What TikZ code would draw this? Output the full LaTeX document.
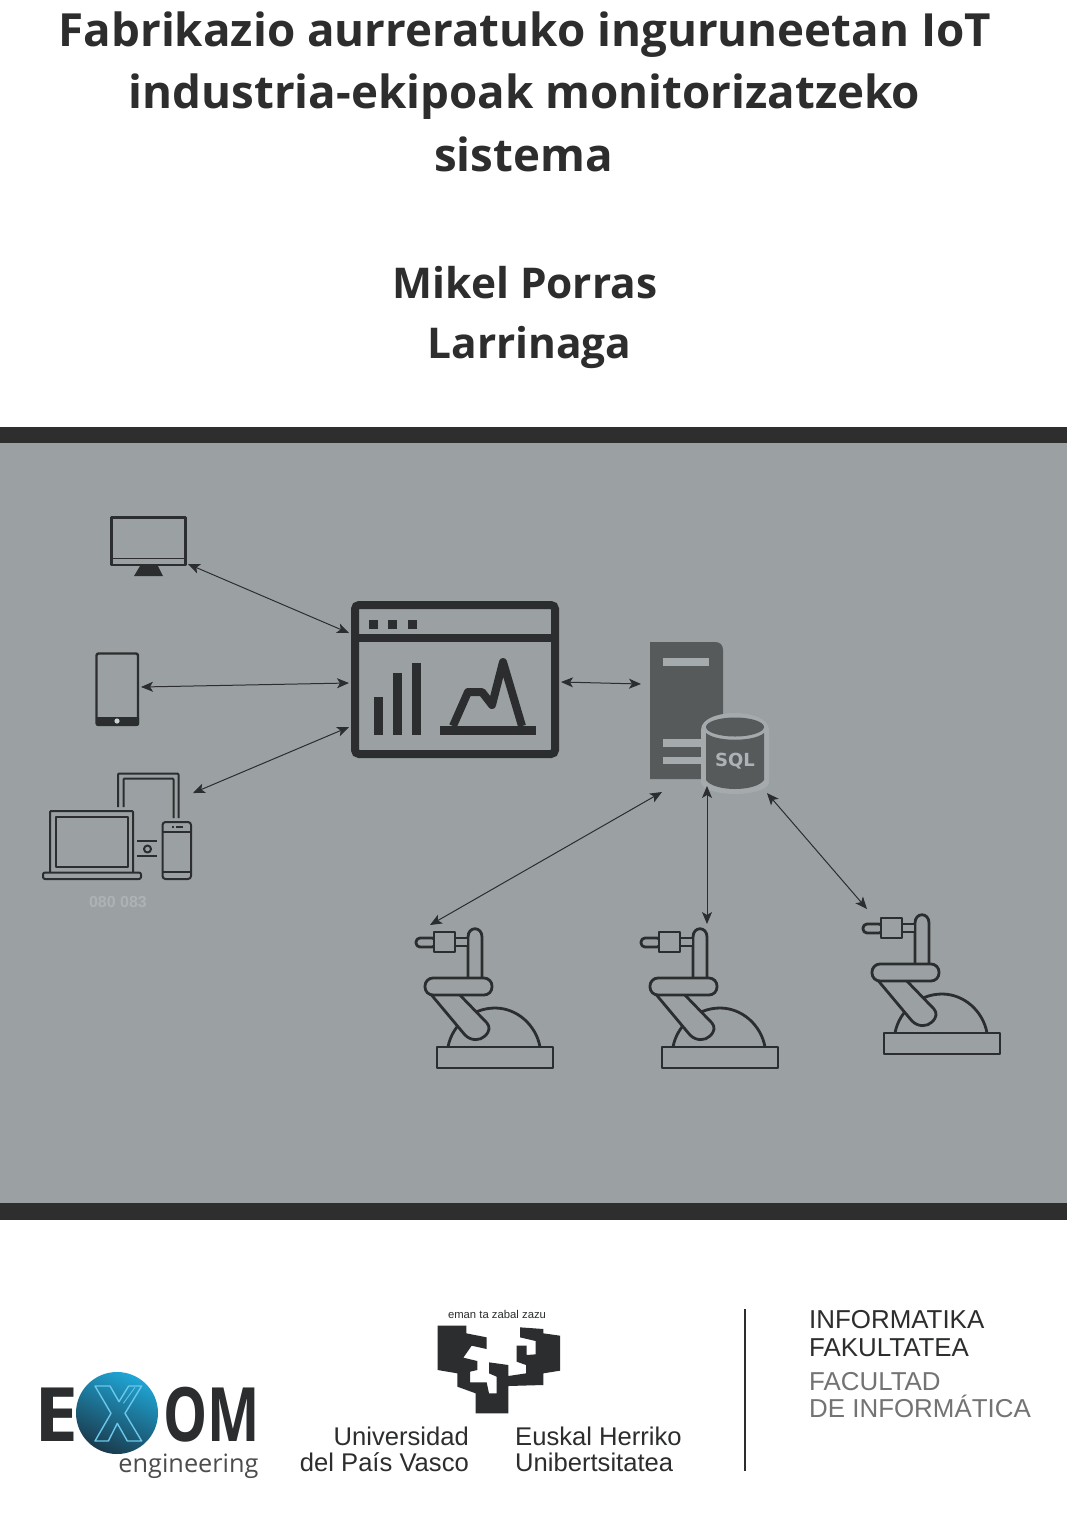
\documentclass[tikz,border=0pt]{standalone}
\usepackage{fontspec}
\setmainfont{Open Sans}
\newfontfamily\arialf{Liberation Sans}
\newfontfamily\djv{DejaVu Sans}
\usetikzlibrary{arrows.meta,shadings}
\definecolor{panel}{HTML}{9BA1A3}
\definecolor{bar}{HTML}{2E2E2E}
\definecolor{ink}{HTML}{2B2D2E}
\definecolor{titleink}{HTML}{2D2D2D}
\definecolor{srv}{HTML}{565A5B}
\definecolor{slot}{HTML}{A5AAAC}
\definecolor{fade}{HTML}{AEB2B4}
\definecolor{xblue}{HTML}{6CC7EA}
\definecolor{orbtop}{HTML}{1FA6D6}
\definecolor{orbbot}{HTML}{1A3A4C}
\tikzset{
  titletext/.style={anchor=base,inner sep=0pt,text=titleink,font=\fontsize{45.7}{50}\selectfont\bfseries},
  authortext/.style={anchor=base,inner sep=0pt,text=titleink,font=\fontsize{42.4}{46}\selectfont\bfseries},
  uni/.style={anchor=base,inner sep=0pt,text=ink,font=\arialf\fontsize{25.6}{30}\selectfont},
  fac/.style={anchor=base west,inner sep=0pt,font=\arialf\fontsize{25.9}{30}\selectfont},
  icon/.style={draw=ink,line width=2.4pt,line join=round},
  icont/.style={draw=ink,line width=2pt,line join=round},
  link/.style={draw=ink,line width=1pt,{Stealth[length=12pt,width=10pt,inset=3pt]}-{Stealth[length=12pt,width=10pt,inset=3pt]}},
  rob/.style={draw=ink,line width=2.8pt,line join=round,fill=panel},
}
\newcommand{\robotat}[2]{%
\begin{scope}[shift={(#1,#2)}]
  \draw[rob] (437,1047) rectangle (553,1068);
  \draw[rob,fill=none] (448,1047) .. controls (452,1025) and (472,1008) .. (495,1008) .. controls (517,1008) and (536,1025) .. (540,1047);
  \draw[rob] (429,992) -- (465,1035) .. controls (471,1041) and (480,1041) .. (485,1036) .. controls (490,1031) and (490,1027) .. (487,1023) -- (457,992) -- cycle;
  \draw[rob] (468,980) -- (468,937) .. controls (468,926) and (482,926) .. (482,937) -- (482,980) -- cycle;
  \draw[rob,rounded corners=8pt] (425,978) rectangle (492,995);
  \draw[rob] (455,938) rectangle (468,946);
  \draw[rob,rounded corners=4pt] (416,938) rectangle (436,947);
  \draw[rob] (434,932) rectangle (455,952);
\end{scope}}
\begin{document}
\begin{tikzpicture}[x=1pt,y=-1pt]
\useasboundingbox (0,0) rectangle (1067,1513);
\fill[white] (0,0) rectangle (1067,1513);
% title
\node[titletext] (t1) at (525,46) {Fabrikazio aurreratuko inguruneetan IoT};
\node[titletext] (t2) at (524.5,108.5) {industria-ekipoak monitorizatzeko};
\node[titletext] (t3) at (523.5,171) {sistema};
\node[authortext] (a1) at (525,298) {Mikel Porras};
\node[authortext] (a2) at (529.5,358) {Larrinaga};
% panel
\fill[panel] (0,443) rectangle (1067,1203);
\fill[bar] (0,427) rectangle (1067,443);
\fill[bar] (0,1203) rectangle (1067,1220);
% monitor
\draw[icon] (111.5,517.5) rectangle (185.5,565);
\draw[ink,line width=1pt] (112,558) -- (185,558);
\fill[ink] (140,566) -- (158,566) -- (163,576) -- (134,576) -- cycle;
% tablet
\draw[icon,rounded corners=2pt] (96.5,653.5) rectangle (138,725);
\fill[ink,rounded corners=1pt] (96,717) rectangle (139,725.5);
\fill[panel!50!white] (117,721) circle (2.6);
% devices
\draw[icont,rounded corners=1pt] (118,807) -- (118,773.5) -- (178.5,773.5) -- (178.5,818);
\draw[icont,rounded corners=1pt] (123.5,807) -- (123.5,778.5) -- (173.5,778.5) -- (173.5,818);
\draw[icont,rounded corners=1pt] (50,872) -- (50,811) -- (133,811) -- (133,872);
\draw[icon] (56,817) rectangle (128,867);
\draw[icont,rounded corners=2pt] (43,872.5) rectangle (141,879);
\draw[icont,rounded corners=3pt] (162.5,822) rectangle (191,879);
\draw[icont] (162.5,832) -- (191,832);
\draw[icont] (162.5,872) -- (191,872);
\fill[ink] (172,825.5) rectangle (174,828);
\fill[ink] (176,825.5) rectangle (183,828);
\draw[icont] (137,841) -- (157,841);
\draw[icont] (137,856) -- (157,856);
\draw[icont] (147.5,849) circle (3.5);
\node[inner sep=0pt,text=fade,font=\arialf\bfseries\fontsize{16}{18}\selectfont] (faded) at (118,902) {080 083};
% browser window
\draw[ink,line width=8pt,rounded corners=4pt] (355,605) rectangle (555,754);
\draw[ink,line width=8pt] (355,638) -- (555,638);
\fill[ink] (369,620) rectangle (378,629);
\fill[ink] (388,620) rectangle (397,629);
\fill[ink] (408,620) rectangle (417,629);
\fill[ink] (374,697) rectangle (383,735);
\fill[ink] (393,673) rectangle (402,735);
\fill[ink] (412,663) rectangle (421,735);
\draw[ink,line width=8pt,line join=round] (453,726) -- (468,692) -- (482,692) -- (492,705) -- (503,662) -- (522,726);
\fill[ink] (440,726) rectangle (536,734.5);
% server
\fill[srv] (650,779) -- (650,642) -- (715,642) .. controls (720,642) and (723,645) .. (723,650) -- (723,779) -- cycle;
\fill[slot] (663,658) rectangle (709,666);
\fill[slot] (663,739) rectangle (706,747);
\fill[slot] (663,757) rectangle (706,764);
\fill[slot] (701,730) .. controls (701,718) and (720,713) .. (735,713) .. controls (750,713) and (769,718) .. (769,730) -- (769,782) .. controls (769,790) and (750,794) .. (735,794) .. controls (720,794) and (701,790) .. (701,782) -- cycle;
\fill[srv] (706,733) .. controls (716,742) and (754,742) .. (764,733) -- (764,780) .. controls (756,792) and (714,792) .. (706,780) -- cycle;
\fill[srv] (735,727) ellipse (29 and 9.5);
\node[inner sep=0pt,text=fade,font=\djv\bfseries\fontsize{18}{20}\selectfont] (sql) at (735,761) {SQL};
% robots
\robotat{0}{0}
\robotat{225}{0}
\robotat{447}{-14}
% connector ends
\coordinate (monEnd) at (188,564);
\coordinate (tabEnd) at (141,687);
\coordinate (devEnd) at (193,793);
\coordinate (winA) at (349,633);
\coordinate (winB) at (349,683);
\coordinate (winC) at (349,727);
\coordinate (winR) at (561,682);
\coordinate (srvL) at (641,684);
\coordinate (srvA) at (662,792);
\coordinate (srvB) at (707,786);
\coordinate (srvC) at (767,793);
\coordinate (robA) at (430,925);
\coordinate (robB) at (707,924);
\coordinate (robC) at (867,909);
\draw[link] (monEnd) -- (winA);
\draw[link] (tabEnd) -- (winB);
\draw[link] (devEnd) -- (winC);
\draw[link] (winR) -- (srvL);
\draw[link] (srvA) -- (robA);
\draw[link] (srvB) -- (robB);
\draw[link] (srvC) -- (robC);
% EXOM logo
\node[anchor=base,inner sep=0pt,text=ink,xscale=1.05,font=\fontsize{75}{80}\selectfont\bfseries] (exE) at (56.5,1441) {E};
\shade[top color=orbtop,bottom color=orbbot,shading angle=-25] (117,1413) circle (41);
\draw[xblue,line width=1.4pt,line join=round,shift={(30,1360)},scale=1/3] (195,78) -- (240,78) -- (267,125) -- (296,78) -- (335,78) -- (285,160) -- (335,243) -- (292,243) -- (262,190) -- (235,243) -- (195,243) -- (243,160) -- cycle;
\draw[xblue,line width=0.8pt,shift={(30,1360)},scale=1/3] (280,130) -- (315,82);
\node[anchor=base,inner sep=0pt,text=ink,xscale=0.74,font=\fontsize{75}{80}\selectfont\bfseries] (exOM) at (212,1441) {OM};
\node[anchor=base,inner sep=0pt,text=ink!85!white,font=\fontsize{25.3}{30}\selectfont] (eng) at (188.5,1472) {engineering};
% UPV
\node[inner sep=0pt,text=ink,font=\arialf\fontsize{11.3}{13}\selectfont] (motto) at (497,1314) {eman ta zabal zazu};
\fill[ink,shift={(425,1305)},scale=1/3] (38,62) -- (124,62) -- (124,85) -- (185,97) -- (185,132) -- (140,122) -- (115,158) -- (157,168) -- (157,195) -- (135,200) -- (135,232) -- (185,232) -- (192,265) -- (215,265) -- (215,215) -- (192,205) -- (192,172) -- (250,180) -- (250,213) -- (303,205) -- (303,180) -- (275,170) -- (275,122) -- (305,122) -- (305,150) -- (332,148) -- (332,108) -- (285,97) -- (285,67) -- (355,72) -- (355,85) -- (405,92) -- (405,197) -- (355,205) -- (355,240) -- (250,243) -- (250,325) -- (152,325) -- (152,265) -- (97,245) -- (97,205) -- (38,195) -- cycle;
\node[uni,anchor=base east] (u1) at (469,1445) {Universidad};
\node[uni,anchor=base east] (u2) at (469,1471) {del País Vasco};
\node[uni,anchor=base west] (u3) at (515,1445) {Euskal Herriko};
\node[uni,anchor=base west] (u4) at (515,1471) {Unibertsitatea};
\draw[ink,line width=1.6pt] (745,1309) -- (745,1471);
\node[fac,text=ink] (f1) at (809,1328) {INFORMATIKA};
\node[fac,text=ink] (f2) at (809,1356) {FAKULTATEA};
\node[fac,text=black!55] (f3) at (809,1390) {FACULTAD};
\node[fac,text=black!55] (f4) at (809,1417) {DE INFORMÁTICA};
\end{tikzpicture}
\end{document}
